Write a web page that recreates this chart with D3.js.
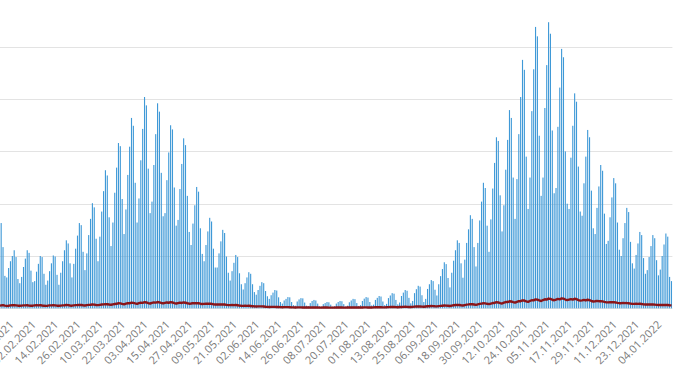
<!DOCTYPE html>
<html><head><meta charset="utf-8">
<script src="https://cdn.jsdelivr.net/npm/d3@7"></script>
<style>body{margin:0;background:#fff;} svg{display:block;}</style>
</head><body><svg id="chart" width="690" height="387"></svg>
<script>
const startDate = new Date(2021, 0, 14);
const cases = [
1400,1630,1170,620,590,770,900,
1000,1110,980,560,480,600,790,
950,1110,1060,720,500,520,700,
850,1000,980,660,450,530,710,
860,1010,990,640,450,680,900,
1110,1300,1240,860,590,850,1140,
1390,1630,1590,1080,730,1050,1400,
1710,2010,1930,1330,900,1370,1850,
2240,2640,2540,1740,1190,1640,2210,
2690,3160,3100,2090,1420,1890,2550,
3090,3640,3490,2400,1640,2100,2830,
3430,4040,3880,2670,1820,2040,2740,
3330,3920,3760,2590,1760,1820,2450,
2980,3500,3420,2310,1580,1690,2280,
2760,3250,3120,2150,1460,1210,1620,
1970,2320,2230,1530,1040,900,1210,
1470,1730,1660,1140,780,780,1050,
1280,1500,1440,990,680,530,710,
870,1020,980,670,460,360,480,
590,690,660,460,310,260,350,
430,500,480,330,230,180,250,
300,350,340,210,120,90,150,
180,215,210,120,60,50,130,
170,195,190,110,50,40,100,
140,160,150,90,40,35,80,
100,120,115,70,30,40,90,
120,140,135,80,35,50,115,
150,180,175,100,45,60,140,
185,215,205,120,55,70,160,
200,235,225,130,60,85,195,
245,290,280,160,75,110,235,
300,350,335,200,95,140,290,
365,430,415,250,120,180,370,
460,540,520,355,245,460,615,
750,880,845,580,400,680,910,
1110,1300,1250,860,585,930,1250,
1510,1780,1710,1170,800,1250,1680,
2040,2400,2300,1580,1080,1700,2290,
2780,3270,3200,2160,1470,1970,2650,
3220,3790,3640,2500,1710,2470,3330,
4040,4750,4560,2900,1900,2500,3770,
4570,5380,5200,3300,2150,2500,3830,
4650,5470,5250,3400,2200,2300,3470,
4220,4960,4800,3000,2000,1900,2880,
3490,4110,3950,2710,1850,1770,2390,
2900,3410,3270,2250,1530,1420,1920,
2330,2740,2630,1810,1230,1290,1740,
2120,2490,2390,1640,1120,1000,1340,
1630,1920,1840,1270,860,760,1020,
1240,1460,1400,960,660,730,980,
1190,1400,1340,920,630,740,1000,
1220,1430,1370,600,520
];
const deaths = [
50,55,60,52,45,48,55,
58,60,55,50,48,52,56,
55,58,52,48,50,55,58,
56,60,54,50,46,50,55,
55,58,55,50,48,52,56,
58,62,60,54,50,56,60,
62,66,63,58,54,60,66,
68,72,70,64,60,66,72,
75,80,78,72,68,76,82,
86,96,94,84,76,88,96,
96,108,104,94,86,98,106,
104,116,112,100,92,104,112,
108,120,114,102,94,104,112,
106,118,112,100,92,100,108,
102,112,106,96,88,92,100,
96,100,96,88,82,84,88,
86,90,86,78,72,74,76,
74,76,72,66,60,60,62,
60,62,58,52,48,46,48,
46,48,44,40,36,34,36,
36,36,34,30,28,26,28,
28,28,26,24,22,20,22,
22,22,20,18,18,16,18,
18,18,16,16,14,14,16,
16,16,14,14,12,12,14,
14,14,12,12,12,12,14,
14,14,14,12,12,14,14,
16,16,14,14,14,16,16,
18,18,16,16,16,18,20,
20,22,20,18,18,20,22,
24,26,24,22,20,24,26,
28,30,28,26,24,28,32,
34,36,34,32,30,34,38,
40,44,42,38,36,42,46,
50,54,52,48,44,52,58,
62,66,64,58,54,62,70,
74,80,78,72,66,76,84,
90,96,94,86,80,90,100,
102,116,112,100,92,108,120,
120,134,130,118,108,124,136,
136,152,148,134,124,140,154,
152,170,166,150,140,158,172,
166,186,180,164,154,168,180,
172,190,184,168,156,166,176,
166,182,174,158,146,152,160,
150,164,156,140,130,134,142,
136,138,132,122,114,114,116,
116,118,112,104,98,98,100,
98,100,96,90,84,84,86,
84,86,82,76,72,72,74,
72,74,70,66,62,62,64,
64,66,62,58,56
];
const tickLabels = ["21.01.2021","02.02.2021","14.02.2021","26.02.2021","10.03.2021","22.03.2021","03.04.2021","15.04.2021","27.04.2021","09.05.2021","21.05.2021","02.06.2021","14.06.2021","26.06.2021","08.07.2021","20.07.2021","01.08.2021","13.08.2021","25.08.2021","06.09.2021","18.09.2021","30.09.2021","12.10.2021","24.10.2021","05.11.2021","17.11.2021","29.11.2021","11.12.2021","23.12.2021","04.01.2022"];
const gridValues = [0, 1000, 2000, 3000, 4000, 5000];

const fmt = d3.timeFormat("%d.%m.%Y");
const days = cases.map((_, i) => fmt(d3.timeDay.offset(startDate, i)));

const svg = d3.select("#chart");
const plotLeft = -1.63, plotRight = 672.4, plotTop = -5.5, plotBottom = 308.3;

const x = d3.scaleBand().domain(days).range([plotLeft, plotRight]).paddingInner(0.4).paddingOuter(0.2);
const y = d3.scaleLinear().domain([0, 6000]).range([plotBottom, plotTop]);

svg.append("g").selectAll("line").data(gridValues).join("line")
  .attr("x1", 0).attr("x2", plotRight)
  .attr("y1", d => Math.round(y(d)) + 0.5).attr("y2", d => Math.round(y(d)) + 0.5)
  .attr("stroke", "#e3e3e3").attr("stroke-width", 1);

svg.append("g").selectAll("rect").data(cases).join("rect")
  .attr("x", (d, i) => x(days[i]))
  .attr("width", x.bandwidth())
  .attr("y", d => y(d))
  .attr("height", d => plotBottom - y(d))
  .attr("fill", "#3f99d7");

const line = d3.line()
  .x((d, i) => x(days[i]) + x.bandwidth() / 2)
  .y(d => y(d));
svg.append("path").datum(deaths)
  .attr("d", line)
  .attr("fill", "none")
  .attr("stroke", "#8a1519")
  .attr("stroke-width", 2.4)
  .attr("stroke-linejoin", "round");

const axis = d3.axisBottom(x).tickValues(tickLabels).tickSize(0).tickPadding(0);
const gx = svg.append("g").attr("transform", `translate(0,${plotBottom})`).call(axis);
gx.select(".domain").remove();
gx.selectAll("text")
  .attr("y", 0).attr("dy", 0)
  .attr("transform", "translate(2,17) rotate(-45)")
  .style("text-anchor", "end")
  .style("font-family", "'Open Sans', sans-serif")
  .style("font-size", "11px")
  .attr("fill", "#7a7a7a");
</script>
</body></html>
